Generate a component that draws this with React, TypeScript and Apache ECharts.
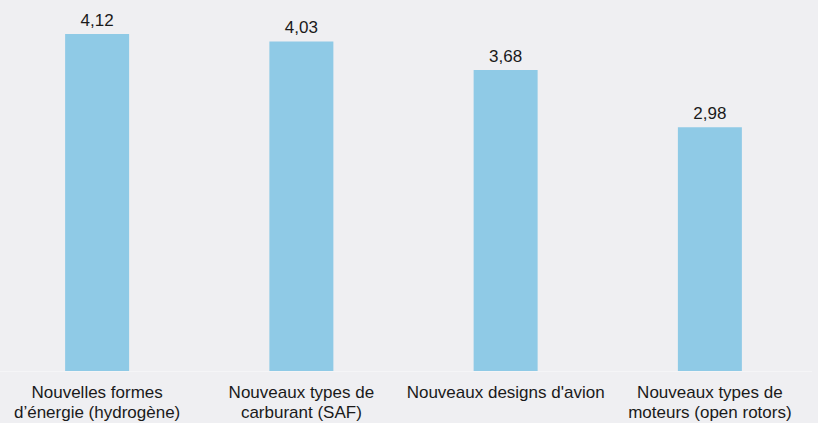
import React, { useEffect, useRef } from "react";
import * as echarts from "echarts";

const categories = [
  "Nouvelles formes\nd’énergie (hydrogène)",
  "Nouveaux types de\ncarburant (SAF)",
  "Nouveaux designs d'avion",
  "Nouveaux types de\nmoteurs (open rotors)",
];
const values = [4.12, 4.03, 3.68, 2.98];

const FONT = "'Liberation Sans', Arial, sans-serif";

export default function App() {
  const ref = useRef<HTMLDivElement>(null);
  useEffect(() => {
    const chart = echarts.init(ref.current!, null, { renderer: "svg" });
    chart.setOption({
      animation: false,
      backgroundColor: "#efeff2",
      grid: { left: 0, right: 0, top: 3, bottom: 52 },
      xAxis: {
        type: "category",
        data: categories,
        axisLine: { show: true, lineStyle: { color: "#f5f5f7", width: 1 } },
        axisTick: { show: false },
        axisLabel: {
          color: "#1a1a1a",
          fontFamily: FONT,
          fontSize: 17,
          lineHeight: 20,
          margin: 11,
          interval: 0,
        },
      },
      yAxis: {
        type: "value",
        min: 0,
        max: 4.5,
        show: false,
        splitLine: { show: false },
      },
      series: [
        {
          type: "bar",
          data: values,
          barWidth: 64,
          itemStyle: { color: "#8fcae6" },
          label: {
            show: true,
            position: "top",
            distance: 5,
            color: "#1a1a1a",
            fontFamily: FONT,
            fontSize: 17,
            formatter: (p: any) => p.value.toFixed(2).replace(".", ","),
          },
        },
      ],
    });
    return () => chart.dispose();
  }, []);
  return (
    <div style={{ position: "fixed", left: 0, top: 0, width: 818, height: 423, background: "#efeff2" }}>
      <div
        ref={ref}
        style={{ position: "absolute", left: -5, top: 0, width: 817, height: 423 }}
      />
    </div>
  );
}
